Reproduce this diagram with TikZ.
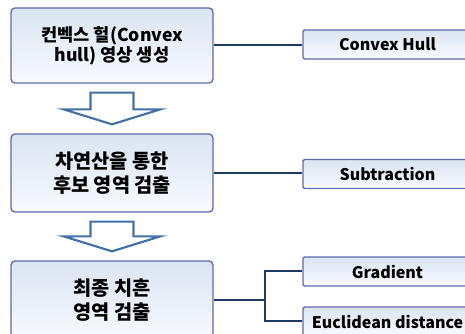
\documentclass[tikz,border=0pt]{standalone}
\usepackage{fontspec}
\setmainfont{Noto Sans CJK KR}
\usetikzlibrary{calc,positioning}
\definecolor{boxline}{RGB}{98,104,172}
\definecolor{boxtop}{RGB}{218,228,242}
\definecolor{boxbot}{RGB}{248,250,254}
\definecolor{flow}{RGB}{66,112,168}
\definecolor{link}{RGB}{28,58,100}

\begin{document}
\begin{tikzpicture}[x=0.75pt,y=-0.75pt,
    stagebox/.style={draw=boxline,line width=1pt,rounded corners=3pt,
      top color=boxtop,bottom color=boxbot,minimum width=151.5pt,
      align=center,font=\fontsize{14.8}{17.5}\selectfont\bfseries},
    methodbox/.style={draw=boxline,line width=1pt,rounded corners=1pt,
      top color=boxtop,bottom color=boxbot,minimum width=126.75pt,
      minimum height=21.75pt,font=\fontsize{12}{13}\selectfont\bfseries},
    linkline/.style={draw=link,line width=1.5pt}]
  \clip (0,0) rectangle (465,334);
  % stages on the left
  \node[stagebox,minimum height=56.25pt,
    font=\fontsize{13.2}{15}\selectfont\bfseries] (gen) at (112,45.5)
    {컨벡스 헐(Convex\\hull) 영상 생성};
  \node[stagebox,minimum height=58.5pt] (cand) at (112,173)
    {차연산을 통한\\후보 영역 검출};
  \node[stagebox,minimum height=58.5pt] (final) at (112,300)
    {최종 치흔\\영역 검출};
  % methods on the right
  \node[methodbox] (hull) at (387.5,44.5) {Convex Hull};
  \node[methodbox] (sub) at (387.5,174) {Subtraction};
  \node[methodbox] (grad) at (387.5,271.5) {Gradient};
  \node[methodbox] (eucl) at (387.5,321.5) {Euclidean distance};
  % hollow arrows between stages
  \foreach \a/\b in {gen/cand,cand/final}{
    \draw[flow,line width=1.6pt,fill=white,line join=miter]
      let \p1=($(\a.south)+(0,9)$), \p2=($(\b.north)-(0,9)$) in
      (\x1-21.5*0.75pt,\y1) -- (\x1+21.5*0.75pt,\y1)
      -- (\x1+21.5*0.75pt,\y2+15*0.75pt) -- (\x1+48.5*0.75pt,\y2+15*0.75pt)
      -- (\x2,\y2)
      -- (\x1-48.5*0.75pt,\y2+15*0.75pt) -- (\x1-21.5*0.75pt,\y2+15*0.75pt)
      -- cycle;
  }
  % links
  \coordinate (fork) at (265,300);
  \draw[linkline] (gen.east) -- (gen.east -| hull.west);
  \draw[linkline] (cand.east) -- (cand.east -| sub.west);
  \draw[linkline] (final.east) -- (fork);
  \draw[linkline] (fork) |- (grad.west);
  \draw[linkline] (fork) |- (eucl.west);
\end{tikzpicture}
\end{document}
